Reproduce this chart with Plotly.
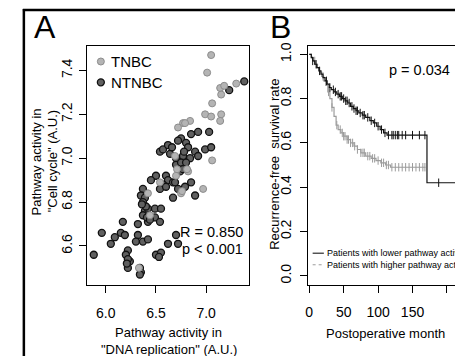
import numpy as np
import plotly.graph_objects as go

# ---------------- Panel A data ----------------
tnbc_x = [7.05, 7.01, 7.14, 7.18, 7.15, 7.30, 7.06, 6.99, 7.05, 7.15, 7.14, 6.84, 6.77,
          6.72, 6.79, 7.06, 6.69, 6.82, 6.70, 6.54, 6.75, 6.97, 6.42, 6.44, 6.71, 6.81,
          6.76, 6.33]
tnbc_y = [7.47, 7.39, 7.32, 7.33, 7.29, 7.34, 7.25, 7.20, 7.19, 7.20, 7.17, 7.17, 7.16,
          7.14, 7.16, 6.99, 7.01, 6.94, 6.92, 6.89, 6.84, 6.86, 6.84, 6.74, 6.95, 6.95,
          6.85, 6.50]
ntnbc_x = [7.38, 7.23, 6.85, 6.92, 7.03, 6.75, 6.72, 6.80, 6.82, 6.89, 6.92, 6.99, 7.05,
           6.54, 6.57, 6.64, 6.70, 6.77, 6.70, 6.74, 6.75, 6.77, 6.50, 6.45, 6.60, 6.62,
           6.57, 6.67, 6.69, 6.85, 6.54, 6.60, 6.72, 6.79, 6.89, 6.67, 6.37, 6.35, 6.39,
           6.37, 6.39, 6.42, 6.37, 6.49, 6.55, 6.49, 6.54, 6.42, 6.32, 6.17, 6.15, 6.19,
           5.96, 6.09, 6.05, 6.32, 6.30, 6.37, 6.42, 5.88, 6.22, 6.20, 6.24, 6.22, 6.34,
           6.35, 6.34, 6.50, 6.55, 6.62, 6.70, 6.72, 6.40, 6.41, 6.44, 6.36, 6.62, 6.66,
           6.78, 6.84, 6.22, 6.21, 6.53, 6.80]
ntnbc_y = [7.35, 7.31, 7.11, 7.12, 7.12, 7.09, 7.08, 7.07, 7.05, 7.03, 7.01, 7.04, 7.05,
           7.03, 7.04, 7.02, 7.00, 7.01, 6.97, 6.94, 6.98, 6.95, 6.92, 6.90, 6.92, 6.90,
           6.88, 6.89, 6.89, 6.89, 6.86, 6.87, 6.86, 6.87, 6.83, 6.82, 6.86, 6.83, 6.82,
           6.80, 6.76, 6.77, 6.74, 6.77, 6.77, 6.73, 6.71, 6.71, 6.70, 6.71, 6.66, 6.65,
           6.66, 6.64, 6.61, 6.65, 6.62, 6.62, 6.63, 6.56, 6.58, 6.56, 6.53, 6.50, 6.50,
           6.48, 6.47, 6.56, 6.57, 6.61, 6.65, 6.61, 6.78, 6.73, 6.72, 6.79, 7.06, 7.05,
           7.03, 7.00, 6.54, 6.52, 6.55, 6.98]
a_xticks = [6.0, 6.5, 7.0]
a_xticklabels = ["6.0", "6.5", "7.0"]
a_yticks = [6.6, 6.8, 7.0, 7.2, 7.4]
a_yticklabels = ["6.6", "6.8", "7.0", "7.2", "7.4"]

# ---------------- Panel B data ----------------
low_t = [0, 3, 5, 8, 11, 14, 17, 20, 23, 26, 29, 32, 36, 40, 44, 48, 52, 56, 60, 64, 68,
         72, 77, 82, 88, 93, 98, 103, 108, 113, 171, 215]
low_s = [1.0, 0.985, 0.97, 0.955, 0.94, 0.925, 0.91, 0.895, 0.88, 0.865, 0.85, 0.84, 0.83,
         0.82, 0.81, 0.80, 0.79, 0.78, 0.765, 0.755, 0.745, 0.735, 0.725, 0.715, 0.70,
         0.69, 0.675, 0.66, 0.645, 0.635, 0.42, 0.42]
low_cens = [5, 10, 15, 25, 30, 35, 38, 42, 45, 47, 50, 53, 55, 58, 62, 65, 68, 70, 74, 78,
            80, 85, 90, 95, 100, 105, 110, 115, 120, 122, 125, 128, 130, 135, 140, 150,
            160, 168, 188]
high_t = [0, 3, 6, 9, 12, 15, 18, 21, 24, 27, 30, 33, 36, 39, 42, 46, 50, 55, 60, 65, 70,
          75, 82, 90, 97, 104, 111, 118, 169]
high_s = [1.0, 0.985, 0.97, 0.955, 0.94, 0.92, 0.90, 0.88, 0.86, 0.83, 0.80, 0.76, 0.72,
          0.68, 0.66, 0.645, 0.63, 0.615, 0.60, 0.585, 0.57, 0.555, 0.54, 0.53, 0.52, 0.51,
          0.50, 0.49, 0.49]
high_cens = [8, 20, 28, 33, 40, 45, 48, 50, 52, 55, 57, 60, 63, 66, 70, 75, 78, 80, 85, 88,
             92, 95, 100, 105, 108, 112, 115, 120, 125, 130, 135, 140, 145, 150, 155, 160,
             165, 168]
b_xticks = [0, 50, 100, 150, 200]
b_xticklabels = ["0", "50", "100", "150", "200"]
b_yticks = [0.0, 0.2, 0.4, 0.6, 0.8, 1.0]
b_yticklabels = ["0.0", "0.2", "0.4", "0.6", "0.8", "1.0"]


def step_at(ts, ss, t):
    ts = np.asarray(ts, float)
    ss = np.asarray(ss, float)
    idx = np.searchsorted(ts, np.asarray(t, float), side="right") - 1
    return ss[idx]


W, H = 455, 356
def px(x):
    return x / W
def py(y):
    return 1 - y / H

FONT = "Liberation Sans, Arial, sans-serif"
fig = go.Figure()

# Panel A scatter
fig.add_trace(go.Scatter(x=ntnbc_x, y=ntnbc_y, mode="markers", xaxis="x", yaxis="y",
                         marker=dict(size=7, color="#606060", line=dict(color="#111111", width=1.3))))
fig.add_trace(go.Scatter(x=tnbc_x, y=tnbc_y, mode="markers", xaxis="x", yaxis="y",
                         marker=dict(size=7, color="#b4b4b4", line=dict(color="#8c8c8c", width=1))))

# Panel B KM curves
fig.add_trace(go.Scatter(x=high_t, y=high_s, mode="lines", line_shape="hv", xaxis="x2", yaxis="y2",
                         line=dict(color="#9c9c9c", width=1.2)))
fig.add_trace(go.Scatter(x=high_cens, y=step_at(high_t, high_s, high_cens), mode="markers",
                         xaxis="x2", yaxis="y2",
                         marker=dict(symbol="line-ns", size=6, line=dict(color="#9c9c9c", width=1))))
fig.add_trace(go.Scatter(x=low_t, y=low_s, mode="lines", line_shape="hv", xaxis="x2", yaxis="y2",
                         line=dict(color="#111111", width=1.2)))
fig.add_trace(go.Scatter(x=low_cens, y=step_at(low_t, low_s, low_cens), mode="markers",
                         xaxis="x2", yaxis="y2",
                         marker=dict(symbol="line-ns", size=6, line=dict(color="#111111", width=1))))

ydom = [py(284), py(43)]
common = dict(showgrid=False, zeroline=False, showline=True, linecolor="black", linewidth=1,
              ticks="outside", ticklen=7, tickcolor="black", tickwidth=1,
              tickfont=dict(family=FONT, size=14, color="black"))

fig.update_layout(
    width=W, height=H, margin=dict(l=0, r=0, t=0, b=0),
    paper_bgcolor="white", plot_bgcolor="white", showlegend=False,
    xaxis=dict(domain=[px(85), px(248)], range=[5.817, 7.431], tickvals=a_xticks,
               ticktext=a_xticklabels, mirror=True, anchor="y", ticklabelstandoff=9, **common),
    yaxis=dict(domain=ydom, range=[6.424, 7.513], tickvals=a_yticks, ticktext=a_yticklabels,
               tickangle=-90, mirror=True, anchor="x", ticklabelstandoff=2, **common),
    xaxis2=dict(domain=[px(307.3), 1.0], range=[-1.4, 211.7], tickvals=b_xticks,
                ticktext=b_xticklabels, mirror=True, anchor="y2", ticklabelstandoff=8, **common),
    yaxis2=dict(domain=ydom, range=[-0.040, 1.039], tickvals=b_yticks, ticktext=b_yticklabels,
                tickangle=-90, mirror=False, anchor="x2", ticklabelstandoff=4, **common),
)

ann = []
def add_text(x, y, text, size, xanchor="center", angle=0):
    ann.append(dict(x=px(x), y=py(y), xref="paper", yref="paper", text=text, showarrow=False,
                    xanchor=xanchor, yanchor="middle", textangle=angle,
                    font=dict(family=FONT, size=size, color="black")))

add_text(42, 24, "A", 32)
add_text(279, 24, "B", 32)
add_text(166.7, 332, "Pathway activity in", 13)
add_text(166.7, 349, "\"DNA replication\" (A.U.)", 13)
add_text(34, 160, "Pathway activity in", 13, angle=-90)
add_text(50, 160, "\"Cell cycle\" (A.U.)", 13, angle=-90)
add_text(107, 59, "TNBC", 15, xanchor="left")
add_text(107, 80, "NTNBC", 15, xanchor="left")
add_text(244, 231, "R = 0.850", 14.5, xanchor="right")
add_text(244, 248.5, "p < 0.001", 14.5, xanchor="right")
add_text(419, 68, "p = 0.034", 14.5)
add_text(385, 333, "Postoperative month", 13)
add_text(273, 163, "Recurrence-free  survival rate", 13, angle=-90)
add_text(324.5, 252.3, "Patients with lower pathway activity", 9, xanchor="left")
add_text(324.5, 264, "Patients with higher pathway activity", 9, xanchor="left")
fig.update_layout(annotations=ann)

shapes = [
    # outer frame
    dict(type="line", xref="paper", yref="paper", x0=px(21), x1=px(21), y0=py(6), y1=0,
         line=dict(color="black", width=2.5)),
    dict(type="line", xref="paper", yref="paper", x0=px(20), x1=1, y0=py(7), y1=py(7),
         line=dict(color="black", width=2.5)),
    # legend B lines
    dict(type="line", xref="paper", yref="paper", x0=px(311.7), x1=px(323), y0=py(252.3),
         y1=py(252.3), line=dict(color="black", width=1)),
    dict(type="line", xref="paper", yref="paper", x0=px(311.7), x1=px(323), y0=py(264),
         y1=py(264), line=dict(color="#9c9c9c", width=1, dash="dot")),
    # legend A symbols
    dict(type="circle", xref="paper", yref="paper", xsizemode="pixel", ysizemode="pixel",
         xanchor=px(98.5), yanchor=py(59), x0=-3.5, x1=3.5, y0=-3.5, y1=3.5,
         fillcolor="#b4b4b4", line=dict(color="#8c8c8c", width=1)),
    dict(type="circle", xref="paper", yref="paper", xsizemode="pixel", ysizemode="pixel",
         xanchor=px(98.5), yanchor=py(80), x0=-3.5, x1=3.5, y0=-3.5, y1=3.5,
         fillcolor="#606060", line=dict(color="#111111", width=1.3)),
]
fig.update_layout(shapes=shapes)

fig.write_html("out.html", config={"displayModeBar": False},
               post_script="document.body.style.margin='0';document.body.style.padding='0';document.body.style.overflow='hidden';")
